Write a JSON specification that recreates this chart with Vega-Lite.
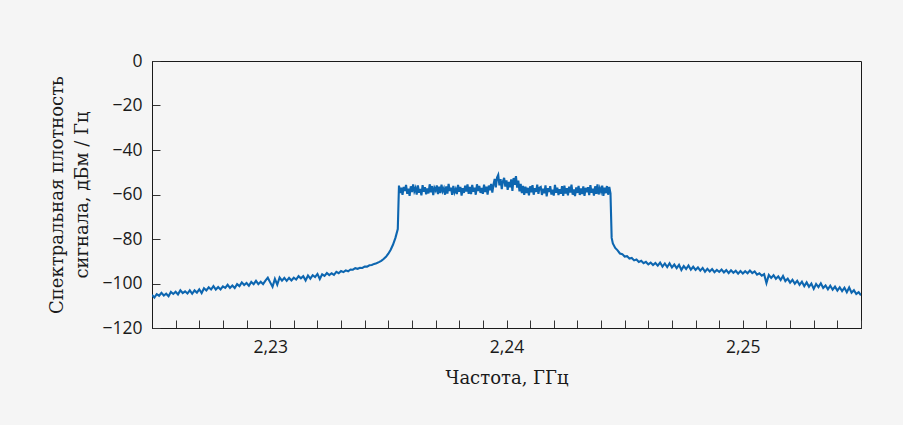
{
"$schema": "https://vega.github.io/schema/vega-lite/v6.json",
"autosize": {"type": "none"},
"width": 709,
"height": 267,
"padding": {"left": 152, "top": 61, "right": 42, "bottom": 97},
"background": "#f5f5f5",
"config": {
  "view": {"stroke": "#1a1a1a", "strokeWidth": 1},
  "axis": {"grid": false, "domainColor": "#1a1a1a", "tickColor": "#333333", "tickSize": -8, "labelFont": "Open Sans", "labelFontSize": 17.5, "labelColor": "#1a1a1a", "titleFont": "DejaVu Serif", "titleFontSize": 18, "titleFontWeight": "normal", "titleColor": "#1a1a1a", "labelOverlap": false}
},
"data": {"values": [
{"f":2.2250,"p":-105.1},{"f":2.2251,"p":-106.3},{"f":2.2252,"p":-104.8},{"f":2.2253,"p":-105.5},{"f":2.2254,"p":-104.2},{"f":2.2255,"p":-105.4},{"f":2.2256,"p":-104.6},{"f":2.2257,"p":-105.7},{"f":2.2258,"p":-103.8},{"f":2.2259,"p":-104.7},
{"f":2.2260,"p":-103.7},{"f":2.2261,"p":-104.9},{"f":2.2262,"p":-103.1},{"f":2.2263,"p":-104.3},{"f":2.2264,"p":-103.5},{"f":2.2265,"p":-104.5},{"f":2.2266,"p":-103.1},{"f":2.2267,"p":-104.6},{"f":2.2268,"p":-103.1},{"f":2.2269,"p":-104.1},
{"f":2.2270,"p":-102.6},{"f":2.2271,"p":-104.3},{"f":2.2272,"p":-102.1},{"f":2.2273,"p":-103.1},{"f":2.2274,"p":-101.7},{"f":2.2275,"p":-102.7},{"f":2.2276,"p":-101.2},{"f":2.2277,"p":-102.7},{"f":2.2278,"p":-101.6},{"f":2.2279,"p":-102.7},
{"f":2.2280,"p":-101.3},{"f":2.2281,"p":-102.0},{"f":2.2282,"p":-100.6},{"f":2.2283,"p":-102.0},{"f":2.2284,"p":-100.9},{"f":2.2285,"p":-102.0},{"f":2.2286,"p":-100.3},{"f":2.2287,"p":-101.2},{"f":2.2288,"p":-99.5},{"f":2.2289,"p":-100.7},
{"f":2.2290,"p":-99.8},{"f":2.2291,"p":-101.0},{"f":2.2292,"p":-99.3},{"f":2.2293,"p":-100.3},{"f":2.2294,"p":-98.8},{"f":2.2295,"p":-100.3},{"f":2.2296,"p":-99.2},{"f":2.2297,"p":-100.3},{"f":2.2298,"p":-98.7},{"f":2.2299,"p":-97.4},
{"f":2.2300,"p":-99.5},{"f":2.2301,"p":-101.5},{"f":2.2302,"p":-97.9},{"f":2.2303,"p":-100.5},{"f":2.2304,"p":-97.3},{"f":2.2305,"p":-98.7},{"f":2.2306,"p":-97.5},{"f":2.2307,"p":-98.8},{"f":2.2308,"p":-97.5},{"f":2.2309,"p":-98.6},
{"f":2.2310,"p":-97.4},{"f":2.2311,"p":-98.2},{"f":2.2312,"p":-96.7},{"f":2.2313,"p":-97.7},{"f":2.2314,"p":-96.7},{"f":2.2315,"p":-98.6},{"f":2.2316,"p":-96.4},{"f":2.2317,"p":-97.8},{"f":2.2318,"p":-96.3},{"f":2.2319,"p":-97.1},
{"f":2.2320,"p":-95.7},{"f":2.2321,"p":-98.0},{"f":2.2322,"p":-95.9},{"f":2.2323,"p":-96.6},{"f":2.2324,"p":-95.3},{"f":2.2325,"p":-96.2},{"f":2.2326,"p":-95.4},{"f":2.2327,"p":-96.1},{"f":2.2328,"p":-94.8},{"f":2.2329,"p":-95.4},
{"f":2.2330,"p":-94.4},{"f":2.2331,"p":-94.9},{"f":2.2332,"p":-94.1},{"f":2.2333,"p":-94.5},{"f":2.2334,"p":-93.7},{"f":2.2335,"p":-93.8},{"f":2.2336,"p":-93.1},{"f":2.2337,"p":-93.4},{"f":2.2338,"p":-92.9},{"f":2.2339,"p":-93.0},
{"f":2.2340,"p":-92.4},{"f":2.2341,"p":-92.4},{"f":2.2342,"p":-91.8},{"f":2.2343,"p":-91.7},{"f":2.2344,"p":-91.2},{"f":2.2345,"p":-90.9},{"f":2.2346,"p":-90.4},{"f":2.2347,"p":-89.8},{"f":2.2348,"p":-89.0},{"f":2.2349,"p":-88.0},
{"f":2.2350,"p":-86.6},{"f":2.2351,"p":-84.8},{"f":2.2352,"p":-82.5},{"f":2.2353,"p":-79.5},{"f":2.2354,"p":-75.5},
{"f":2.23545,"p":-56.0},{"f":2.2355,"p":-59.3},{"f":2.23555,"p":-56.9},{"f":2.2356,"p":-60.2},{"f":2.23565,"p":-56.6},{"f":2.2357,"p":-58.4},{"f":2.23575,"p":-55.7},{"f":2.2358,"p":-59.7},{"f":2.23585,"p":-57.4},{"f":2.2359,"p":-60.6},
{"f":2.23595,"p":-56.3},{"f":2.2360,"p":-58.9},{"f":2.23605,"p":-55.5},{"f":2.2361,"p":-58.6},{"f":2.23615,"p":-57.1},{"f":2.2362,"p":-60.0},{"f":2.23625,"p":-55.9},{"f":2.2363,"p":-59.2},{"f":2.23635,"p":-57.5},{"f":2.2364,"p":-60.4},
{"f":2.23645,"p":-55.8},{"f":2.2365,"p":-58.7},{"f":2.23655,"p":-56.7},{"f":2.2366,"p":-59.9},{"f":2.23665,"p":-57.3},{"f":2.2367,"p":-59.5},{"f":2.23675,"p":-55.4},{"f":2.2368,"p":-59.0},{"f":2.23685,"p":-56.2},{"f":2.2369,"p":-60.3},
{"f":2.23695,"p":-57.0},{"f":2.2370,"p":-58.2},{"f":2.23705,"p":-55.9},{"f":2.2371,"p":-59.8},{"f":2.23715,"p":-56.5},{"f":2.2372,"p":-59.4},{"f":2.23725,"p":-55.6},{"f":2.2373,"p":-58.5},{"f":2.23735,"p":-57.2},{"f":2.2374,"p":-60.1},
{"f":2.23745,"p":-56.4},{"f":2.2375,"p":-59.6},{"f":2.23755,"p":-55.2},{"f":2.2376,"p":-58.4},{"f":2.23765,"p":-56.9},{"f":2.2377,"p":-60.2},{"f":2.23775,"p":-56.1},{"f":2.2378,"p":-59.1},{"f":2.23785,"p":-57.6},{"f":2.2379,"p":-59.8},
{"f":2.23795,"p":-55.7},{"f":2.2380,"p":-58.8},{"f":2.23805,"p":-56.6},{"f":2.2381,"p":-60.5},{"f":2.23815,"p":-57.2},{"f":2.2382,"p":-59.3},{"f":2.23825,"p":-56.0},{"f":2.2383,"p":-58.7},{"f":2.23835,"p":-55.5},{"f":2.2384,"p":-59.7},
{"f":2.23845,"p":-56.6},{"f":2.2385,"p":-59.8},{"f":2.23855,"p":-55.7},{"f":2.2386,"p":-58.7},{"f":2.23865,"p":-56.9},{"f":2.2387,"p":-60.1},{"f":2.23875,"p":-55.4},{"f":2.2388,"p":-58.4},{"f":2.23885,"p":-56.2},{"f":2.2389,"p":-59.3},
{"f":2.23895,"p":-57.1},{"f":2.2390,"p":-59.7},{"f":2.23905,"p":-55.6},{"f":2.2391,"p":-58.9},{"f":2.23915,"p":-56.5},{"f":2.2392,"p":-60.0},{"f":2.23925,"p":-56.0},{"f":2.2393,"p":-58.1},{"f":2.23935,"p":-55.2},{"f":2.2394,"p":-59.2},
{"f":2.23945,"p":-55.5},{"f":2.2395,"p":-53.0},{"f":2.23955,"p":-56.8},{"f":2.2396,"p":-52.4},{"f":2.23965,"p":-51.2},{"f":2.2397,"p":-55.9},{"f":2.23975,"p":-53.1},{"f":2.2398,"p":-57.6},{"f":2.23985,"p":-54.0},{"f":2.2399,"p":-52.5},
{"f":2.23995,"p":-56.4},{"f":2.2400,"p":-53.6},{"f":2.24005,"p":-57.9},{"f":2.2401,"p":-54.3},{"f":2.24015,"p":-56.8},{"f":2.2402,"p":-53.2},{"f":2.24025,"p":-58.4},{"f":2.2403,"p":-52.6},{"f":2.24035,"p":-55.7},{"f":2.2404,"p":-51.7},
{"f":2.24045,"p":-56.9},{"f":2.2405,"p":-53.8},{"f":2.24055,"p":-58.6},{"f":2.2406,"p":-55.2},{"f":2.24065,"p":-59.4},{"f":2.2407,"p":-56.1},{"f":2.24075,"p":-60.2},{"f":2.2408,"p":-56.5},{"f":2.24085,"p":-59.3},{"f":2.2409,"p":-57.0},
{"f":2.24095,"p":-60.4},{"f":2.2410,"p":-56.3},{"f":2.24105,"p":-59.0},{"f":2.2411,"p":-55.8},{"f":2.24115,"p":-60.1},{"f":2.2412,"p":-57.2},{"f":2.24125,"p":-58.8},{"f":2.2413,"p":-55.6},{"f":2.24135,"p":-59.7},{"f":2.2414,"p":-56.9},
{"f":2.24145,"p":-56.6},{"f":2.2415,"p":-60.2},{"f":2.24155,"p":-57.4},{"f":2.2416,"p":-59.4},{"f":2.24165,"p":-55.9},{"f":2.2417,"p":-60.8},{"f":2.24175,"p":-57.1},{"f":2.2418,"p":-58.9},{"f":2.24185,"p":-56.3},{"f":2.2419,"p":-60.0},
{"f":2.24195,"p":-57.8},{"f":2.2420,"p":-60.5},{"f":2.24205,"p":-55.7},{"f":2.2421,"p":-59.2},{"f":2.24215,"p":-56.9},{"f":2.2422,"p":-60.3},{"f":2.24225,"p":-57.6},{"f":2.2423,"p":-59.7},{"f":2.24235,"p":-56.2},{"f":2.2424,"p":-60.6},
{"f":2.24245,"p":-56.0},{"f":2.2425,"p":-59.6},{"f":2.24255,"p":-57.2},{"f":2.2426,"p":-60.4},{"f":2.24265,"p":-56.5},{"f":2.2427,"p":-59.1},{"f":2.24275,"p":-55.6},{"f":2.2428,"p":-60.1},{"f":2.24285,"p":-57.7},{"f":2.2429,"p":-60.7},
{"f":2.24295,"p":-56.8},{"f":2.2430,"p":-59.3},{"f":2.24305,"p":-56.1},{"f":2.2431,"p":-60.2},{"f":2.24315,"p":-57.3},{"f":2.2432,"p":-59.8},{"f":2.24325,"p":-56.4},{"f":2.2433,"p":-60.6},{"f":2.24335,"p":-57.0},{"f":2.2434,"p":-59.0},
{"f":2.24345,"p":-56.7},{"f":2.2435,"p":-60.3},{"f":2.24355,"p":-55.8},{"f":2.2436,"p":-59.2},{"f":2.24365,"p":-57.4},{"f":2.2437,"p":-60.5},{"f":2.24375,"p":-56.3},{"f":2.2438,"p":-59.7},{"f":2.24385,"p":-55.5},{"f":2.2439,"p":-60.0},
{"f":2.24395,"p":-57.2},{"f":2.2440,"p":-58.8},{"f":2.24405,"p":-56.0},{"f":2.2441,"p":-60.6},{"f":2.24415,"p":-56.9},{"f":2.2442,"p":-59.4},{"f":2.24425,"p":-56.2},{"f":2.2443,"p":-60.1},{"f":2.24435,"p":-56.6},{"f":2.2444,"p":-59.5},
{"f":2.24445,"p":-79.5},{"f":2.2445,"p":-82.0},
{"f":2.2446,"p":-84.0},{"f":2.2447,"p":-85.1},{"f":2.2448,"p":-86.5},{"f":2.2449,"p":-86.8},{"f":2.2450,"p":-87.9},{"f":2.2451,"p":-87.7},{"f":2.2452,"p":-88.8},{"f":2.2453,"p":-88.5},{"f":2.2454,"p":-89.6},{"f":2.2455,"p":-89.2},
{"f":2.2456,"p":-90.3},{"f":2.2457,"p":-89.8},{"f":2.2458,"p":-90.9},{"f":2.2459,"p":-90.3},{"f":2.2460,"p":-91.4},{"f":2.2461,"p":-90.6},{"f":2.2462,"p":-91.7},{"f":2.2463,"p":-90.8},{"f":2.2464,"p":-92.0},{"f":2.2465,"p":-90.6},
{"f":2.2466,"p":-92.4},{"f":2.2467,"p":-91.0},{"f":2.2468,"p":-92.6},{"f":2.2469,"p":-90.9},{"f":2.2470,"p":-92.8},{"f":2.2471,"p":-91.5},{"f":2.2472,"p":-93.1},{"f":2.2473,"p":-91.6},{"f":2.2474,"p":-93.9},{"f":2.2475,"p":-92.2},
{"f":2.2476,"p":-93.5},{"f":2.2477,"p":-91.9},{"f":2.2478,"p":-93.8},{"f":2.2479,"p":-92.5},{"f":2.2480,"p":-93.9},{"f":2.2481,"p":-92.8},{"f":2.2482,"p":-94.2},{"f":2.2483,"p":-93.0},{"f":2.2484,"p":-94.7},{"f":2.2485,"p":-93.4},
{"f":2.2486,"p":-94.6},{"f":2.2487,"p":-93.5},{"f":2.2488,"p":-94.9},{"f":2.2489,"p":-93.9},{"f":2.2490,"p":-94.8},{"f":2.2491,"p":-93.7},{"f":2.2492,"p":-95.0},{"f":2.2493,"p":-94.0},{"f":2.2494,"p":-95.3},{"f":2.2495,"p":-94.1},
{"f":2.2496,"p":-95.2},{"f":2.2497,"p":-94.3},{"f":2.2498,"p":-95.6},{"f":2.2499,"p":-94.4},{"f":2.2500,"p":-95.5},{"f":2.2501,"p":-94.5},{"f":2.2502,"p":-95.4},{"f":2.2503,"p":-94.2},{"f":2.2504,"p":-95.3},{"f":2.2505,"p":-94.6},
{"f":2.2506,"p":-96.0},{"f":2.2507,"p":-95.4},{"f":2.2508,"p":-96.5},{"f":2.2509,"p":-95.8},{"f":2.2510,"p":-99.8},{"f":2.2511,"p":-96.2},{"f":2.2512,"p":-97.5},{"f":2.2513,"p":-96.3},{"f":2.2514,"p":-97.9},{"f":2.2515,"p":-96.8},
{"f":2.2516,"p":-98.4},{"f":2.2517,"p":-96.6},{"f":2.2518,"p":-98.9},{"f":2.2519,"p":-97.8},{"f":2.2520,"p":-99.6},{"f":2.2521,"p":-98.3},{"f":2.2522,"p":-100.1},{"f":2.2523,"p":-98.8},{"f":2.2524,"p":-100.6},{"f":2.2525,"p":-99.2},
{"f":2.2526,"p":-101.2},{"f":2.2527,"p":-99.5},{"f":2.2528,"p":-101.5},{"f":2.2529,"p":-100.0},{"f":2.2530,"p":-102.4},{"f":2.2531,"p":-100.2},{"f":2.2532,"p":-101.6},{"f":2.2533,"p":-99.9},{"f":2.2534,"p":-102.0},{"f":2.2535,"p":-100.9},
{"f":2.2536,"p":-102.6},{"f":2.2537,"p":-101.0},{"f":2.2538,"p":-102.8},{"f":2.2539,"p":-101.4},{"f":2.2540,"p":-103.2},{"f":2.2541,"p":-101.7},{"f":2.2542,"p":-103.4},{"f":2.2543,"p":-101.9},{"f":2.2544,"p":-103.9},{"f":2.2545,"p":-101.8},
{"f":2.2546,"p":-104.1},{"f":2.2547,"p":-103.0},{"f":2.2548,"p":-104.7},{"f":2.2549,"p":-103.9},{"f":2.2550,"p":-105.3}
]},
"mark": {"type": "line", "color": "#0d66b0", "strokeWidth": 2.1, "clip": true},
"encoding": {
  "x": {"field": "f", "type": "quantitative",
    "scale": {"domain": [2.225, 2.255], "nice": false, "zero": false},
    "axis": {"title": "Частота, ГГц", "values": [2.225,2.226,2.227,2.228,2.229,2.23,2.231,2.232,2.233,2.234,2.235,2.236,2.237,2.238,2.239,2.24,2.241,2.242,2.243,2.244,2.245,2.246,2.247,2.248,2.249,2.25,2.251,2.252,2.253,2.254,2.255],
      "labelExpr": "abs(datum.value*100 - round(datum.value*100)) < 0.000001 ? replace(format(datum.value, '.2f'), '.', ',') : ''",
      "labelPadding": 18, "titlePadding": 14, "labelFlush": false}},
  "y": {"field": "p", "type": "quantitative",
    "scale": {"domain": [-120, 0], "nice": false},
    "axis": {"title": ["Спектральная плотность", "сигнала, дБм / Гц"], "values": [-120,-100,-80,-60,-40,-20,0],
      "labelPadding": 18, "titlePadding": 10, "titleLineHeight": 25}}
}
}
